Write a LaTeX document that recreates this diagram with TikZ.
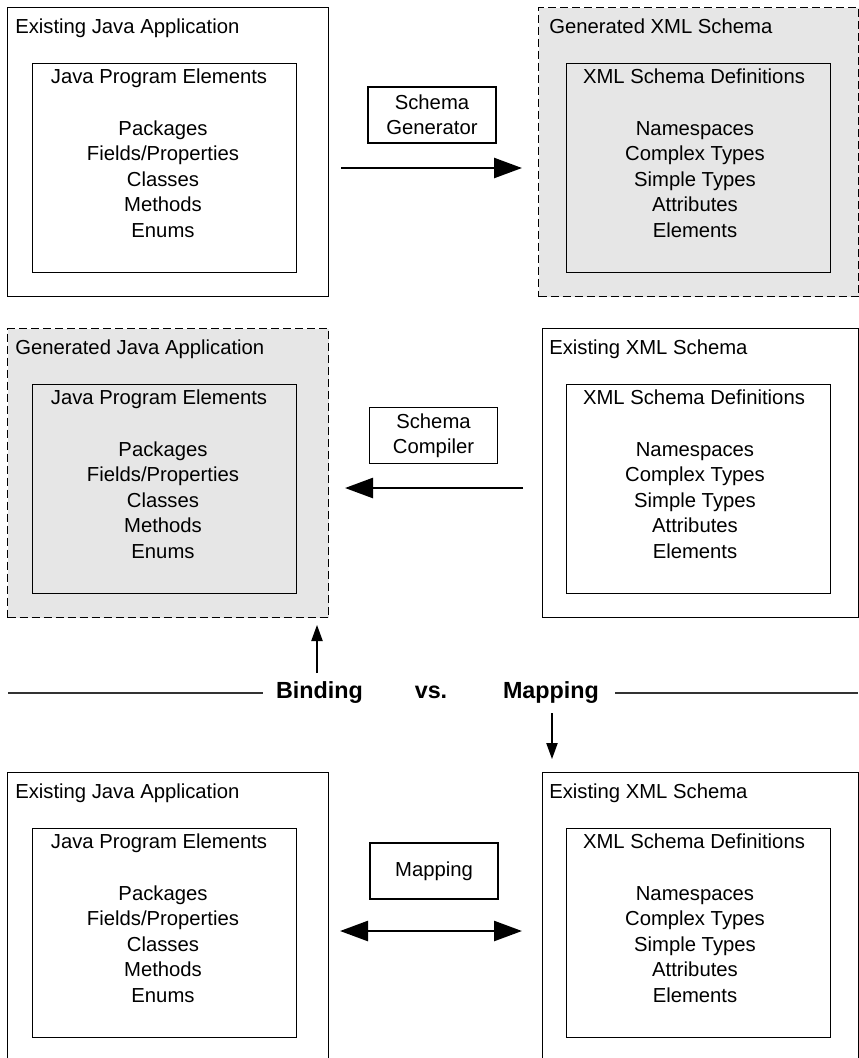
\documentclass[tikz,border=0pt]{standalone}
\usepackage{fontspec}
\setmainfont{Liberation Sans}
\usetikzlibrary{arrows.meta}
\definecolor{boxgray}{HTML}{E6E6E6}
\tikzset{
  solidpanel/.style={draw=black, line width=0.9pt, inner sep=0pt},
  genpanel/.style={draw=black, line width=0.9pt, dash pattern=on 6pt off 3pt, fill=boxgray, inner sep=0pt},
  innerbox/.style={draw=black, line width=0.9pt, inner sep=0pt, minimum width=198pt, minimum height=156.75pt},
  txt/.style={font=\fontsize{15.2}{19.3}\selectfont, inner sep=0pt},
  labelbox/.style={draw=black, line width=0.9pt, fill=white, align=center,
    font=\fontsize{15.2}{18.75}\selectfont, minimum width=96pt, minimum height=42pt, inner sep=0pt},
  bigtxt/.style={font=\fontsize{17.5}{21}\selectfont\bfseries, inner sep=0pt},
  bigarrow/.style={line width=1.9pt, -{Triangle[length=21pt,width=15pt]}},
  bigdouble/.style={line width=1.9pt, {Triangle[length=21pt,width=15pt]}-{Triangle[length=21pt,width=15pt]}},
  thinarrow/.style={line width=0.9pt, -{Triangle[length=12pt,width=8.5pt]}},
  sepline/.style={draw=black!80, line width=1pt}
}
% #1 prefix, #2 top y, #3 panel style, #4 title
\newcommand\javapanel[4]{%
  \node[#3, anchor=north west, minimum width=240.75pt, minimum height=216.75pt] (#1o) at (7,#2) {};
  \node[txt, anchor=base west] (#1t) at (15,#2+26) {#4};
  \node[innerbox, anchor=north west] (#1i) at (32,#2+56) {};
  \node[txt, anchor=base] (#1h) at (159,#2+76) {Java Program Elements};
  \foreach \w [count=\i] in {Packages,Fields/Properties,Classes,Methods,Enums}
    \node[txt, anchor=base] (#1l\i) at (163,#2+128+25.6*\i-25.6) {\w};
}
% #1 prefix, #2 top y, #3 left x, #4 panel style, #5 title
\newcommand\xmlpanel[5]{%
  \node[#4, anchor=north west, minimum width={(858-#3)*0.75pt}, minimum height=216.75pt] (#1o) at (#3,#2) {};
  \node[txt, anchor=base west] (#1t) at (549,#2+26) {#5};
  \node[innerbox, anchor=north west] (#1i) at (566,#2+56) {};
  \node[txt, anchor=base] (#1h) at (694,#2+76) {XML Schema Definitions};
  \foreach \w [count=\i] in {Namespaces,Complex Types,Simple Types,Attributes,Elements}
    \node[txt, anchor=base] (#1l\i) at (695,#2+128+25.6*\i-25.6) {\w};
}
\begin{document}
\begin{tikzpicture}[x=0.75pt, y=-0.75pt]
  \useasboundingbox (0,0) rectangle (859,1058);
  \clip (0,0) rectangle (859,1058);
  % row 1
  \javapanel{ja}{7}{solidpanel}{Existing Java Application}
  \xmlpanel{xa}{7}{538}{genpanel}{Generated XML Schema}
  \node[labelbox] (sg) at (432,115) {Schema\\Generator};
  \coordinate (ga) at (341,168);
  \coordinate (gb) at (522,168);
  \draw[bigarrow] (ga) -- (gb);
  % row 2
  \javapanel{jb}{328}{genpanel}{Generated Java Application}
  \xmlpanel{xb}{328}{542}{solidpanel}{Existing XML Schema}
  \node[labelbox] (sc) at (433.5,435.5) {Schema\\Compiler};
  \coordinate (ca) at (523,488);
  \coordinate (cb) at (345,488);
  \draw[bigarrow] (ca) -- (cb);
  % separator
  \node[bigtxt, anchor=base] (bind) at (319.5,698) {Binding};
  \node[bigtxt, anchor=base] (vs) at (431,698) {vs.};
  \node[bigtxt, anchor=base] (mapb) at (551,698) {Mapping};
  \coordinate (l1) at (8,693);
  \coordinate (l2) at (263,693);
  \coordinate (r1) at (615,693);
  \coordinate (r2) at (858,693);
  \draw[sepline] (l1) -- (l2);
  \draw[sepline] (r1) -- (r2);
  \coordinate (ua) at (317,673);
  \coordinate (ub) at (317,625);
  \draw[thinarrow] (ua) -- (ub);
  \coordinate (da) at (552,713);
  \coordinate (db) at (552,759);
  \draw[thinarrow] (da) -- (db);
  % row 3
  \javapanel{jc}{772}{solidpanel}{Existing Java Application}
  \xmlpanel{xc}{772}{542}{solidpanel}{Existing XML Schema}
  \node[labelbox] (mp) at (434,871) {Mapping};
  \coordinate (ma) at (340,931);
  \coordinate (mb) at (522,931);
  \draw[bigdouble] (ma) -- (mb);
\end{tikzpicture}
\end{document}
